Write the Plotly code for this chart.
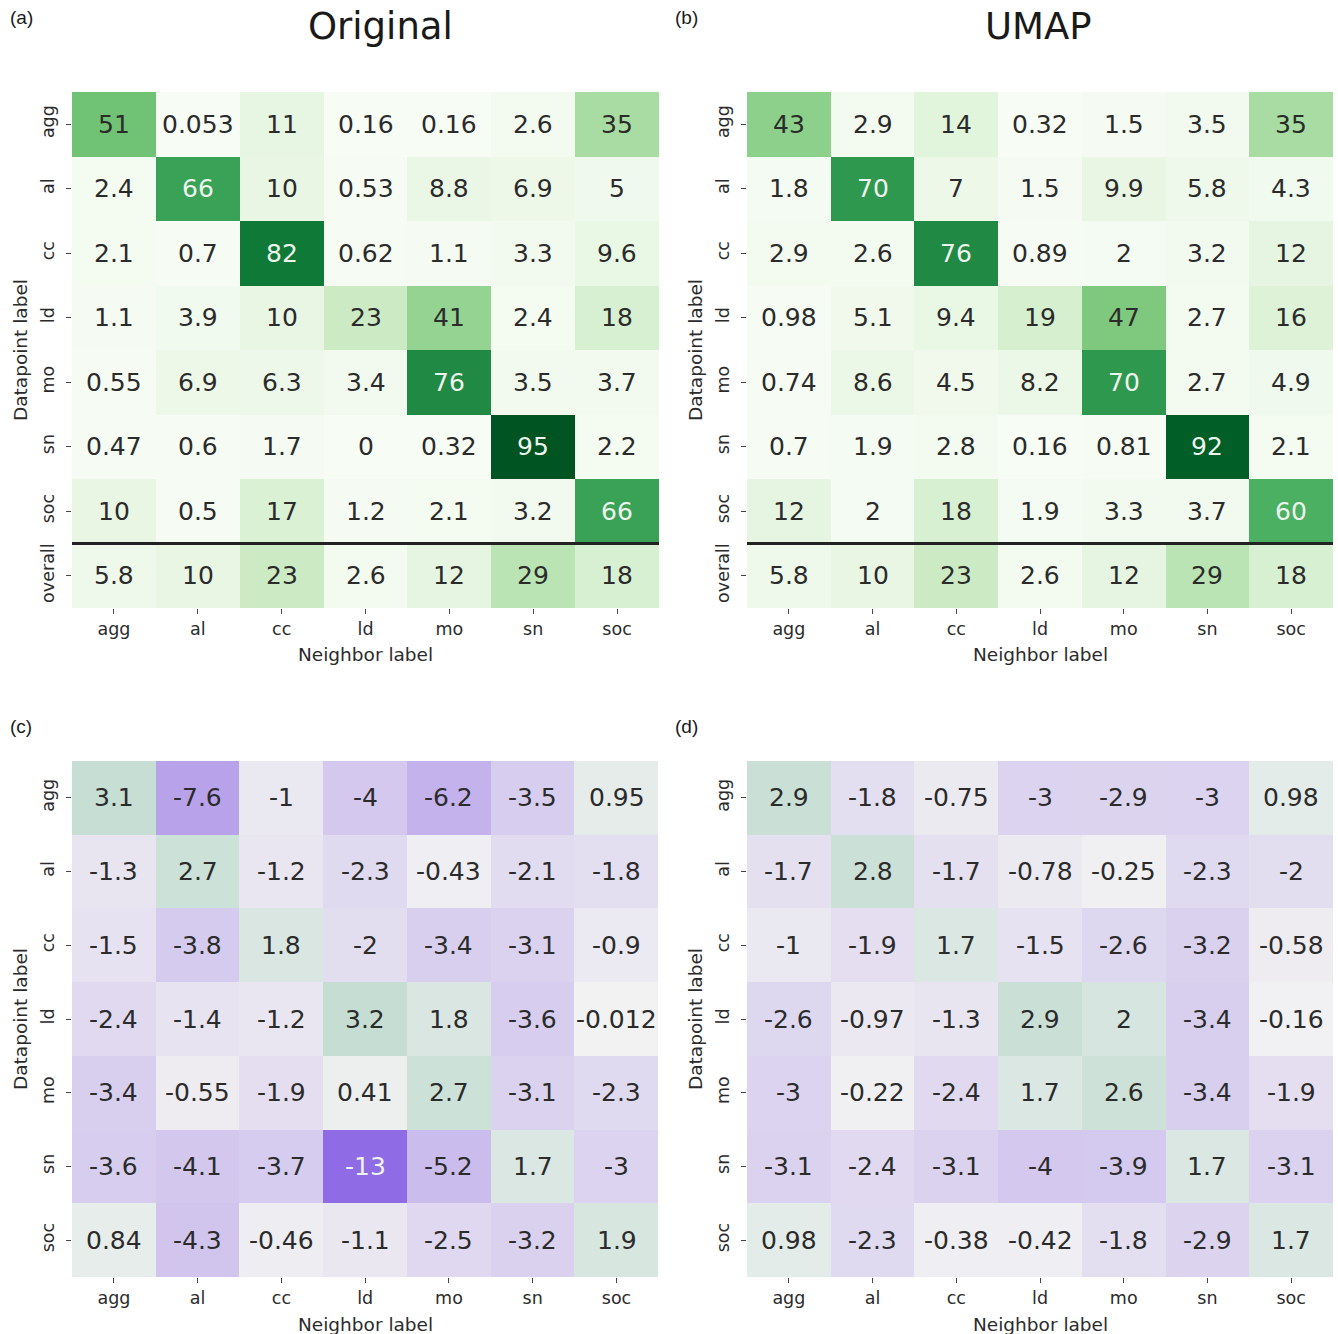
import plotly.graph_objects as go

# ---------------- data ----------------
neighbor_labels = ["agg", "al", "cc", "ld", "mo", "sn", "soc"]
datapoint_labels_top = ["agg", "al", "cc", "ld", "mo", "sn", "soc", "overall"]
datapoint_labels_bottom = ["agg", "al", "cc", "ld", "mo", "sn", "soc"]

original_vals = [
    [51, 0.053, 11, 0.16, 0.16, 2.6, 35],
    [2.4, 66, 10, 0.53, 8.8, 6.9, 5],
    [2.1, 0.7, 82, 0.62, 1.1, 3.3, 9.6],
    [1.1, 3.9, 10, 23, 41, 2.4, 18],
    [0.55, 6.9, 6.3, 3.4, 76, 3.5, 3.7],
    [0.47, 0.6, 1.7, 0, 0.32, 95, 2.2],
    [10, 0.5, 17, 1.2, 2.1, 3.2, 66],
    [5.8, 10, 23, 2.6, 12, 29, 18],
]

umap_vals = [
    [43, 2.9, 14, 0.32, 1.5, 3.5, 35],
    [1.8, 70, 7, 1.5, 9.9, 5.8, 4.3],
    [2.9, 2.6, 76, 0.89, 2, 3.2, 12],
    [0.98, 5.1, 9.4, 19, 47, 2.7, 16],
    [0.74, 8.6, 4.5, 8.2, 70, 2.7, 4.9],
    [0.7, 1.9, 2.8, 0.16, 0.81, 92, 2.1],
    [12, 2, 18, 1.9, 3.3, 3.7, 60],
    [5.8, 10, 23, 2.6, 12, 29, 18],
]

original_diff = [
    [3.1, -7.6, -1, -4, -6.2, -3.5, 0.95],
    [-1.3, 2.7, -1.2, -2.3, -0.43, -2.1, -1.8],
    [-1.5, -3.8, 1.8, -2, -3.4, -3.1, -0.9],
    [-2.4, -1.4, -1.2, 3.2, 1.8, -3.6, -0.012],
    [-3.4, -0.55, -1.9, 0.41, 2.7, -3.1, -2.3],
    [-3.6, -4.1, -3.7, -13, -5.2, 1.7, -3],
    [0.84, -4.3, -0.46, -1.1, -2.5, -3.2, 1.9],
]

umap_diff = [
    [2.9, -1.8, -0.75, -3, -2.9, -3, 0.98],
    [-1.7, 2.8, -1.7, -0.78, -0.25, -2.3, -2],
    [-1, -1.9, 1.7, -1.5, -2.6, -3.2, -0.58],
    [-2.6, -0.97, -1.3, 2.9, 2, -3.4, -0.16],
    [-3, -0.22, -2.4, 1.7, 2.6, -3.4, -1.9],
    [-3.1, -2.4, -3.1, -4, -3.9, 1.7, -3.1],
    [0.98, -2.3, -0.38, -0.42, -1.8, -2.9, 1.7],
]

panel_titles = ["Original", "UMAP"]
panel_letters = ["(a)", "(b)", "(c)", "(d)"]

# ---------------- styling ----------------
W, H = 1338, 1334
FONT = "DejaVu Sans"
TXT = "#2b2b2b"

greens = [
    [0.0, "#f7fcf5"], [0.125, "#e5f5e0"], [0.25, "#c7e9c0"], [0.375, "#a1d99b"],
    [0.5, "#74c476"], [0.625, "#41ab5d"], [0.75, "#238b45"], [0.875, "#006d2c"],
    [1.0, "#00441b"],
]
diverging = [[0.0, "#8f6be6"], [0.5, "#f2f2f2"], [1.0, "#3d9e74"]]


def px_x(x0, x1):
    return [x0 / W, x1 / W]


def px_y(y0, y1):
    return [1 - y1 / H, 1 - y0 / H]


panels = [
    dict(z=original_vals, rows=datapoint_labels_top, dom_x=px_x(72, 659), dom_y=px_y(92, 608),
         cs=greens, zmin=0, zmax=100, kind="g"),
    dict(z=umap_vals, rows=datapoint_labels_top, dom_x=px_x(747, 1333), dom_y=px_y(92, 608),
         cs=greens, zmin=0, zmax=100, kind="g"),
    dict(z=original_diff, rows=datapoint_labels_bottom, dom_x=px_x(72, 659), dom_y=px_y(761, 1277),
         cs=diverging, zmin=-13, zmax=13, kind="d"),
    dict(z=umap_diff, rows=datapoint_labels_bottom, dom_x=px_x(747, 1333), dom_y=px_y(761, 1277),
         cs=diverging, zmin=-13, zmax=13, kind="d"),
]

fig = go.Figure()
annotations = []
shapes = []

for i, p in enumerate(panels):
    n = i + 1
    xa = "x" if n == 1 else f"x{n}"
    ya = "y" if n == 1 else f"y{n}"
    fig.add_trace(go.Heatmap(
        z=p["z"], x=neighbor_labels, y=p["rows"], colorscale=p["cs"],
        zmin=p["zmin"], zmax=p["zmax"], showscale=False, xaxis=xa, yaxis=ya,
        xgap=0, ygap=0, hoverinfo="skip",
    ))
    xkey = "xaxis" if n == 1 else f"xaxis{n}"
    ykey = "yaxis" if n == 1 else f"yaxis{n}"
    fig.update_layout(**{
        xkey: dict(domain=p["dom_x"], anchor=ya, showgrid=False, zeroline=False, showline=False,
                   ticks="outside", ticklen=5, tickwidth=1, tickcolor="#444",
                   tickfont=dict(family=FONT, size=17.5, color=TXT), fixedrange=True),
        ykey: dict(domain=p["dom_y"], anchor=xa, showgrid=False, zeroline=False, showline=False,
                   autorange="reversed", ticks="outside", ticklen=5, tickwidth=1, tickcolor="#444",
                   ticklabelstandoff=5,
                   tickangle=-90, tickfont=dict(family=FONT, size=17.5, color=TXT), fixedrange=True),
    })
    # cell labels
    for r, row in enumerate(p["z"]):
        for c, v in enumerate(row):
            if p["kind"] == "g":
                white = v >= 55
            else:
                white = abs(v) >= 10
            annotations.append(dict(
                x=neighbor_labels[c], y=p["rows"][r], xref=xa, yref=ya,
                text=format(v, ".2g"), showarrow=False,
                font=dict(family=FONT, size=25, color="#eef4ee" if white else TXT),
            ))
    # separator line above "overall"
    if p["kind"] == "g":
        shapes.append(dict(type="line", xref=f"{xa} domain", yref=ya, x0=0, x1=1, y0=6.5, y1=6.5,
                           line=dict(color="#222", width=3)))
    # axis titles
    cx = (p["dom_x"][0] + p["dom_x"][1]) / 2
    cy = (p["dom_y"][0] + p["dom_y"][1]) / 2
    annotations.append(dict(x=cx, y=p["dom_y"][0] - 47 / H, xref="paper", yref="paper",
                            text="Neighbor label", showarrow=False, xanchor="center", yanchor="middle",
                            font=dict(family=FONT, size=18.5, color=TXT)))
    annotations.append(dict(x=p["dom_x"][0] - 52 / W, y=cy, xref="paper", yref="paper",
                            text="Datapoint label", showarrow=False, textangle=-90,
                            xanchor="center", yanchor="middle",
                            font=dict(family=FONT, size=18.5, color=TXT)))

# panel titles
for t, xc in zip(panel_titles, [380, 1038]):
    annotations.append(dict(x=xc / W, y=1 - 26 / H, xref="paper", yref="paper", text=t,
                            showarrow=False, xanchor="center", yanchor="middle",
                            font=dict(family=FONT, size=37, color="#1a1a1a")))

# panel letters
for letter, (lx, ly) in zip(panel_letters, [(8, 18), (673, 18), (8, 726), (673, 726)]):
    annotations.append(dict(x=lx / W, y=1 - ly / H, xref="paper", yref="paper", text=letter,
                            showarrow=False, xanchor="left", yanchor="middle",
                            font=dict(family="Liberation Sans", size=19, color="#1a1a1a")))

fig.update_layout(
    width=W, height=H, margin=dict(l=0, r=0, t=0, b=0),
    paper_bgcolor="white", plot_bgcolor="white",
    annotations=annotations, shapes=shapes, showlegend=False,
)

fig.write_html(
    "out.html",
    config={"displayModeBar": False},
    post_script="document.body.style.margin='0';document.body.style.overflow='hidden';",
)
